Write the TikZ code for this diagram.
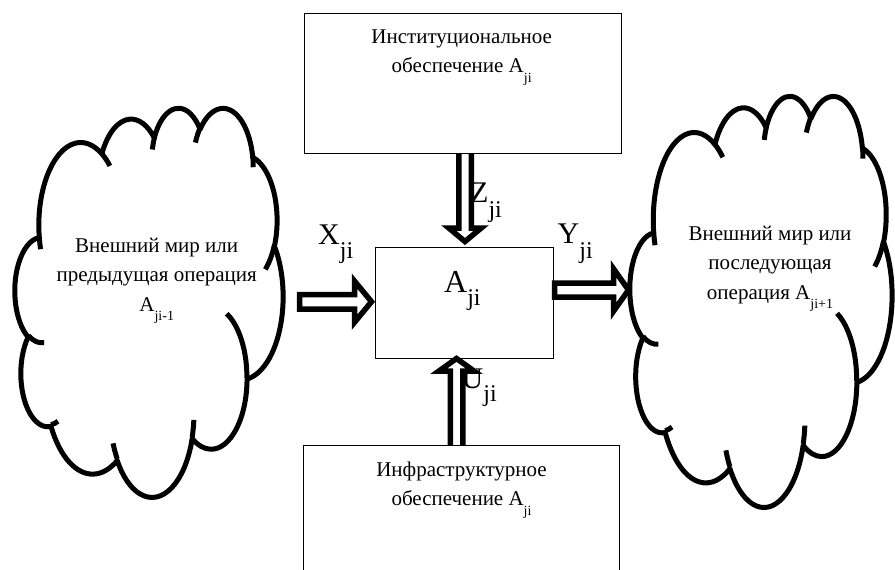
\documentclass[tikz,border=0pt]{standalone}
\usepackage{fontspec}
\setmainfont{Liberation Serif}
\newcommand\lowsub[3]{\raisebox{-#2pt}{\fontsize{#1}{#1}\selectfont #3}}
% elliptic arc given by visual angles (DrawingML arcTo), converted to parametric
\newcommand\carc[4]{\pgfextra{%
  \pgfmathsetmacro\cta{atan2((#1)*sin(#3),(#2)*cos(#3))}%
  \pgfmathsetmacro\ctb{atan2((#1)*sin((#3)+(#4)),(#2)*cos((#3)+(#4)))}%
  \pgfmathsetmacro\ctd{\ctb-\cta}%
  \pgfmathsetmacro\ctd{\ctd<0 ? \ctd+360 : \ctd}%
  } arc[start angle=\cta, delta angle=\ctd, x radius=#1, y radius=#2]}
\newcommand\mycloud{%
  \draw[cloudline] (39.00,143.70) \carc{67.53}{91.90}{-190.4875}{123.7805}
    \carc{53.33}{72.67}{-144.1024}{89.9452}
    \carc{43.65}{59.45}{-145.8079}{99.7230}
    \carc{48.57}{65.95}{-130.9861}{117.2417}
    \carc{53.33}{72.73}{-78.7089}{109.0269}
    \carc{67.75}{92.20}{-46.2673}{130.2690}
    \carc{57.85}{78.67}{0.6250}{114.0333}
    \carc{67.52}{92.15}{22.4516}{115.1726}
    \carc{77.20}{105.43}{66.2426}{75.7110}
    \carc{43.60}{59.18}{-274.9421}{146.7356}
    \carc{43.45}{59.45}{-246.8285}{152.5189} -- cycle;
  \draw[cloudline] (46.93,261.77) \carc{43.45}{59.45}{86.7420}{26.4295}
    (69.28,348.99) \carc{43.60}{59.18}{73.6105}{11.4475}
    (164.78,390.90) \carc{67.52}{92.15}{137.6242}{14.0811}
    (288.27,347.51) \carc{67.52}{92.15}{6.4533}{15.9984}
    (341.29,229.54) \carc{57.85}{78.67}{-70.2924}{70.9174}
    (417.98,153.54) \carc{53.33}{72.73}{30.3180}{27.7515}
    (383.24,54.26) \carc{48.57}{65.95}{-13.7443}{14.8589}
    (290.78,39.52) \carc{48.57}{65.95}{-149.1815}{18.1954}
    (221.41,47.20) \carc{43.65}{59.45}{-163.4943}{17.6864}
    (140.00,51.92) \carc{67.53}{91.90}{-66.7070}{12.3194}
    (41.27,157.89) \carc{67.53}{91.90}{157.6544}{11.8582};
}
\begin{document}
\begin{tikzpicture}[x=1pt,y=-1pt,
  boxstyle/.style={draw=black, line width=0.9pt, fill=white, inner sep=0pt, anchor=north west},
  cloudline/.style={line width=5pt, line join=round},
  blockarrow/.style={draw=black, fill=white, line width=5.5pt, line join=miter},
  txt/.style={inner sep=0pt, font=\fontsize{21}{29.5}\selectfont},
  lbl/.style={inner sep=0pt, anchor=base west, font=\fontsize{30}{30}\selectfont}]
\useasboundingbox (0,0) rectangle (895,570);
\clip (0,0) rectangle (895,570);
\fill[white] (0,0) rectangle (895,570);

% clouds
\begin{scope}[shift={(15,107)}, x=0.6204pt, y=-0.9005pt]
  \mycloud
\end{scope}
\begin{scope}[shift={(630,95)}, x=0.6065pt, y=-0.9514pt]
  \mycloud
\end{scope}

% cloud texts
\node[txt, anchor=base] (lct) at (156.7,252) {\begin{tabular}[t]{@{}c@{}}Внешний мир или\\предыдущая операция\\A\lowsub{14}{9}{ji-1}\end{tabular}};
\node[txt, anchor=base] (rct) at (770,240) {\begin{tabular}[t]{@{}c@{}}Внешний мир или\\последующая\\операция A\lowsub{14}{9}{ji+1}\end{tabular}};

% flow labels
\node[lbl] (xl) at (318,244) {X\lowsub{24}{14}{ji}};
\node[lbl] (yl) at (557.5,243) {Y\lowsub{24}{15}{ji}};
\node[lbl] (zl) at (470,202) {Z\lowsub{24}{15}{ji}};
\node[lbl] (ul) at (461.5,388) {U\lowsub{24}{13}{ji}};

% central operation
\node[boxstyle, minimum width=178pt, minimum height=111pt] (cbox) at (375,247) {};
\node[inner sep=0pt, anchor=base west, font=\fontsize{32}{32}\selectfont] (aji) at (444,292) {A\lowsub{24}{13}{ji}};

% block arrows
\draw[blockarrow] (299.5,294.5) -- (354.5,294.5) -- (354.5,281.1) -- (371.5,301.7) -- (354.5,322.3) -- (354.5,309) -- (299.5,309) -- cycle;
\draw[blockarrow] (554.5,283) -- (613.5,283) -- (613.5,268.75) -- (628.5,290) -- (613.5,311.25) -- (613.5,297) -- (554.5,297) -- cycle;
\draw[blockarrow] (458.75,148) -- (458.75,228) -- (448.75,228) -- (465,241.5) -- (481.25,228) -- (471.25,228) -- (471.25,148) -- cycle;
\draw[blockarrow] (450.25,450) -- (450.25,371) -- (439,371) -- (456.5,358.5) -- (474,371) -- (462.75,371) -- (462.75,450) -- cycle;

% support boxes
\node[boxstyle, minimum width=317pt, minimum height=140pt] (topbox) at (304,13) {};
\node[txt, anchor=base] (itx) at (461.7,43.3) {\begin{tabular}[t]{@{}c@{}}Институциональное\\обеспечение A\lowsub{14}{10}{ji}\end{tabular}};
\node[boxstyle, minimum width=316pt, minimum height=160pt] (botbox) at (303,445) {};
\node[txt, anchor=base, font=\fontsize{21}{28.5}\selectfont] (ftx) at (461.5,476.7) {\begin{tabular}[t]{@{}c@{}}Инфраструктурное\\обеспечение A\lowsub{14}{10}{ji}\end{tabular}};
\end{tikzpicture}
\end{document}
